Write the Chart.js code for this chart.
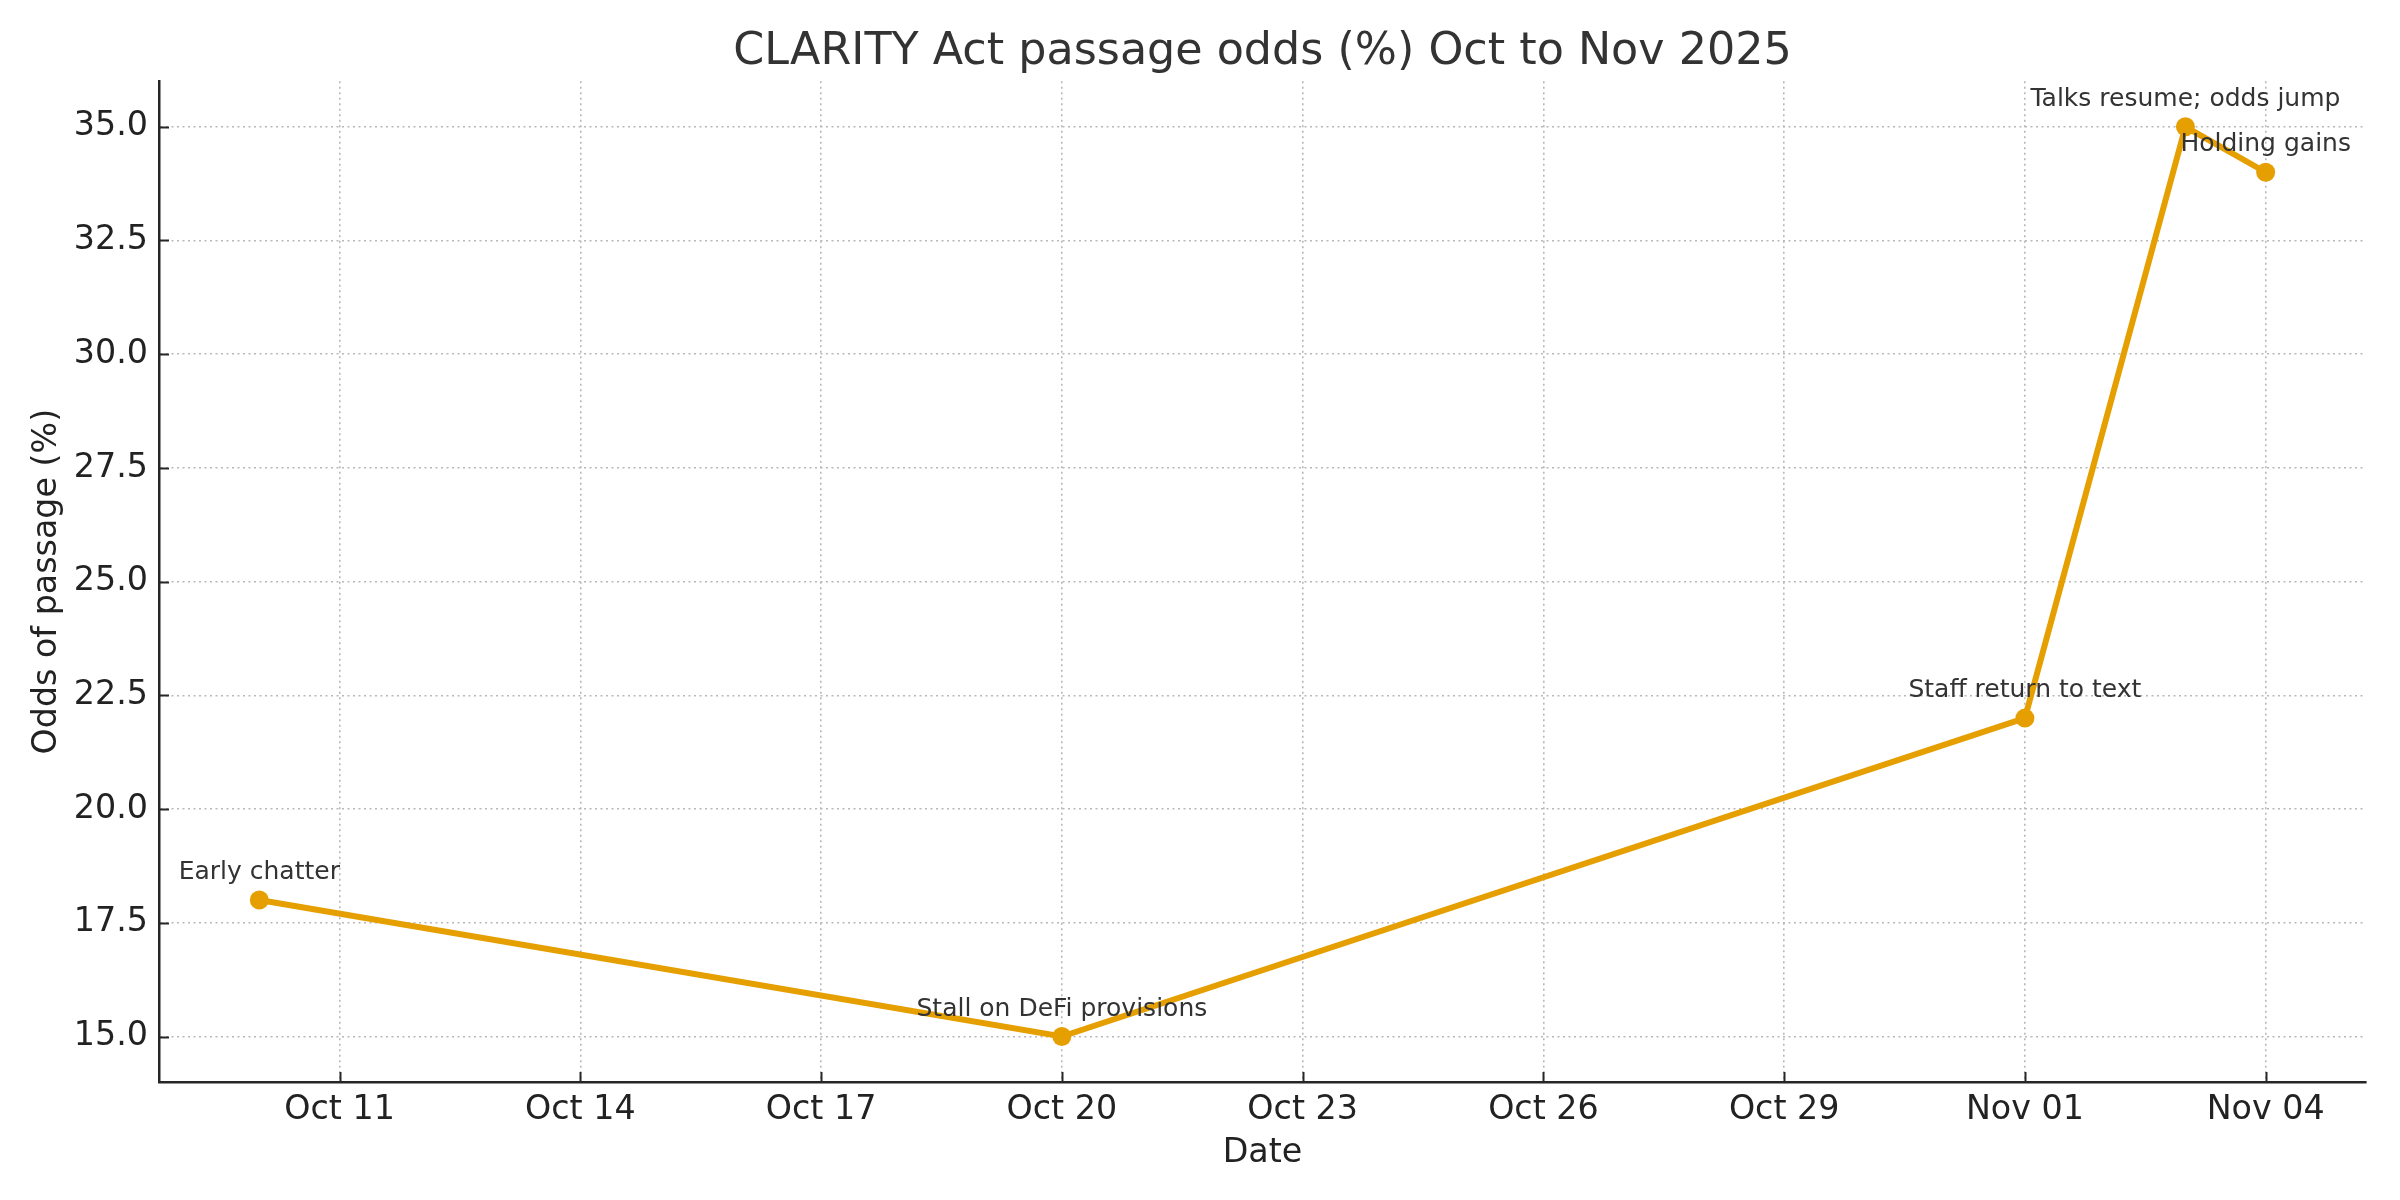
<!DOCTYPE html>
<html>
<head>
<meta charset="utf-8">
<title>CLARITY Act passage odds</title>
<script src="https://cdn.jsdelivr.net/npm/chart.js@4.4.1/dist/chart.umd.min.js"></script>
<style>
  html, body { margin: 0; padding: 0; background: #fff; }
  canvas { display: block; }
</style>
</head>
<body>
<canvas id="oddsChart" width="2400" height="1200"></canvas>
<script>
/* ============================================================
 * 1. DATA
 * ============================================================ */
const dates = ['2025-10-10', '2025-10-20', '2025-11-01', '2025-11-03', '2025-11-04'];
const odds = [18, 15, 22, 35, 34];
const notes = ['Early chatter', 'Stall on DeFi provisions', 'Staff return to text',
               'Talks resume; odds jump', 'Holding gains'];

const xTickDates = ['2025-10-11', '2025-10-14', '2025-10-17', '2025-10-20', '2025-10-23',
                    '2025-10-26', '2025-10-29', '2025-11-01', '2025-11-04'];
const xTickLabels = ['Oct 11', 'Oct 14', 'Oct 17', 'Oct 20', 'Oct 23',
                     'Oct 26', 'Oct 29', 'Nov 01', 'Nov 04'];
const yTicks = [15, 17.5, 20, 22.5, 25, 27.5, 30, 32.5, 35];

const FONT = 'DejaVu Sans';
const ORANGE = '#E69F00';
const INK = '#262626';

// days counted from Oct 1 2025, used as the linear x value
const dayZero = Date.UTC(2025, 9, 1);
function toDay(s) {
    const p = s.split('-');
    return (Date.UTC(+p[0], +p[1] - 1, +p[2]) - dayZero) / 86400000;
}

const dataDays = dates.map(toDay);
// matplotlib style 5% margins around the data
const xPad = (Math.max(...dataDays) - Math.min(...dataDays)) * 0.05;
const yPad = (Math.max(...odds) - Math.min(...odds)) * 0.05;

/* ============================================================
 * 2. PLUGINS (inward ticks + point notes)
 * ============================================================ */
const innerTicks = {
    id: 'innerTicks',
    afterDraw(chart) {
        const { ctx, chartArea, scales } = chart;
        ctx.save();
        ctx.strokeStyle = INK;
        ctx.lineWidth = 2;
        scales.x.ticks.forEach(t => {
            const x = Math.round(scales.x.getPixelForValue(t.value)) + 0.5;
            ctx.beginPath();
            ctx.moveTo(x, chartArea.bottom);
            ctx.lineTo(x, chartArea.bottom - 10);
            ctx.stroke();
        });
        scales.y.ticks.forEach(t => {
            const y = Math.round(scales.y.getPixelForValue(t.value)) + 0.5;
            ctx.beginPath();
            ctx.moveTo(chartArea.left, y);
            ctx.lineTo(chartArea.left + 10, y);
            ctx.stroke();
        });
        ctx.restore();
    }
};

const pointNotes = {
    id: 'pointNotes',
    afterDatasetsDraw(chart) {
        const { ctx } = chart;
        const meta = chart.getDatasetMeta(0);
        ctx.save();
        ctx.font = '25px "' + FONT + '"';
        ctx.fillStyle = '#333';
        ctx.textAlign = 'center';
        ctx.textBaseline = 'bottom';
        meta.data.forEach((pt, i) => {
            ctx.fillText(notes[i], pt.x, pt.y - 15);
        });
        ctx.restore();
    }
};

/* ============================================================
 * 3. CHART
 * ============================================================ */
document.addEventListener('DOMContentLoaded', function () {
    const ctx = document.getElementById('oddsChart').getContext('2d');

    new Chart(ctx, {
        type: 'line',
        data: {
            datasets: [{
                data: dataDays.map((d, i) => ({ x: d, y: odds[i] })),
                borderColor: ORANGE,
                backgroundColor: ORANGE,
                borderWidth: 6,
                tension: 0,
                pointRadius: 9.5,
                pointBorderWidth: 0,
                pointBackgroundColor: ORANGE,
                clip: false
            }]
        },
        options: {
            responsive: false,
            devicePixelRatio: 1,
            animation: false,
            layout: { padding: { left: 0, right: 34, top: 0, bottom: 0 } },
            plugins: {
                legend: { display: false },
                tooltip: { enabled: false },
                title: {
                    display: true,
                    fullSize: false, // centre the title over the plot area, like matplotlib
                    text: 'CLARITY Act passage odds (%) Oct to Nov 2025',
                    color: '#333',
                    font: { family: FONT, size: 44.4, weight: 'normal' },
                    padding: { top: 26, bottom: 2 }
                }
            },
            scales: {
                x: {
                    type: 'linear',
                    min: Math.min(...dataDays) - xPad,
                    max: Math.max(...dataDays) + xPad,
                    afterBuildTicks: s => { s.ticks = xTickDates.map(d => ({ value: toDay(d) })); },
                    afterFit: s => { s.height = 118; },
                    ticks: {
                        color: '#222',
                        font: { family: FONT, size: 33.3 },
                        padding: 8,
                        maxRotation: 0,
                        autoSkip: false,
                        callback: (v, i) => xTickLabels[i]
                    },
                    grid: { color: '#b8b8b8', lineWidth: 1.6, drawTicks: false },
                    border: { display: true, color: INK, width: 2.5, dash: [2, 3.5] },
                    title: {
                        display: true,
                        text: 'Date',
                        color: '#222',
                        font: { family: FONT, size: 33.3 },
                        padding: { top: 0, bottom: 27 }
                    }
                },
                y: {
                    min: Math.min(...odds) - yPad,
                    max: Math.max(...odds) + yPad,
                    afterBuildTicks: s => { s.ticks = yTicks.map(v => ({ value: v })); },
                    afterFit: s => { s.width = 159; },
                    ticks: {
                        color: '#222',
                        font: { family: FONT, size: 33.3 },
                        padding: 11,
                        callback: v => v.toFixed(1)
                    },
                    grid: { color: '#b8b8b8', lineWidth: 1.6, drawTicks: false },
                    border: { display: true, color: INK, width: 2.5, dash: [2, 3.5] },
                    title: {
                        display: true,
                        text: 'Odds of passage (%)',
                        color: '#222',
                        font: { family: FONT, size: 33.3 },
                        padding: { top: 27, bottom: 0 }
                    }
                }
            }
        },
        plugins: [innerTicks, pointNotes]
    });
});
</script>
</body>
</html>
